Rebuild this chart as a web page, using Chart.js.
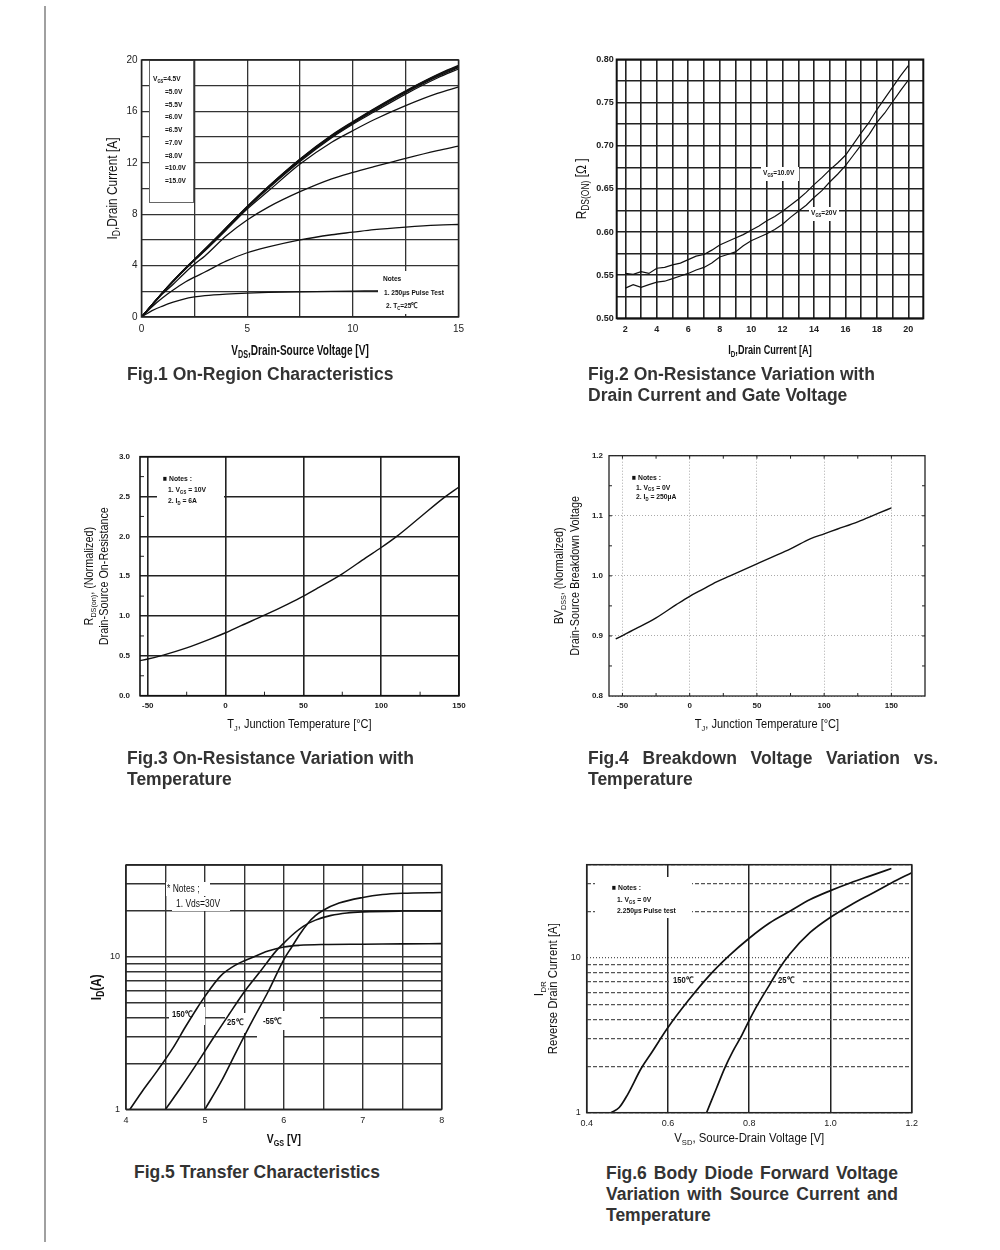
<!DOCTYPE html>
<html>
<head>
<meta charset="utf-8">
<script src="https://cdn.jsdelivr.net/npm/chart.js@4.4.1/dist/chart.umd.min.js"></script>
<style>
  body { margin: 0; background: #fff; width: 1000px; height: 1250px; position: relative; overflow: hidden;
         font-family: "Liberation Sans", Arial, sans-serif; }
  .rule { position: absolute; left: 44px; top: 6px; width: 2px; height: 1236px; background: #a0a0a0; }
  canvas { position: absolute; }
  .cap { position: absolute; font-weight: bold; font-size: 17.5px; line-height: 21px; color: #333; white-space: nowrap; }
  .cap .j { text-align: justify; text-align-last: justify; white-space: normal; }
</style>
</head>
<body>
<div class="rule"></div>
<canvas id="fig1"></canvas>
<canvas id="fig2"></canvas>
<canvas id="fig3"></canvas>
<canvas id="fig4"></canvas>
<canvas id="fig5"></canvas>
<canvas id="fig6"></canvas>

<div class="cap" style="left:127px;top:364px">Fig.1 On-Region Characteristics</div>
<div class="cap" style="left:588px;top:364px">Fig.2 On-Resistance Variation with<br>Drain Current and Gate Voltage</div>
<div class="cap" style="left:127px;top:748px">Fig.3 On-Resistance Variation with<br>Temperature</div>
<div class="cap" style="left:588px;top:748px"><div class="j" style="width:350px">Fig.4 Breakdown Voltage Variation vs.</div>Temperature</div>
<div class="cap" style="left:134px;top:1162px">Fig.5 Transfer Characteristics</div>
<div class="cap" style="left:606px;top:1163px"><div class="j" style="width:292px">Fig.6 Body Diode Forward Voltage</div><div class="j" style="width:292px">Variation with Source Current and</div>Temperature</div>

<script>
// Fig.1 On-region characteristics (ID vs VDS, one curve per VGS)
const fig1Vds = [0, 0.5, 1, 1.5, 2, 2.5, 3, 4, 5, 6, 7.5, 9, 10, 11, 12.5, 14, 15];
const fig1Id45 = [0, 0.5, 0.85, 1.15, 1.4, 1.56, 1.66, 1.78, 1.86, 1.91, 1.96, 2.0, 2.02, 2.03, 2.05, 2.07, 2.08];
const fig1Id50 = [0, 0.8, 1.5, 2.1, 2.65, 3.1, 3.5, 4.35, 5.0, 5.45, 6.0, 6.4, 6.6, 6.8, 7.0, 7.15, 7.2];
const fig1Id55 = [0, 0.9, 1.8, 2.55, 3.35, 4.1, 4.75, 6.3, 7.55, 8.55, 9.75, 10.75, 11.25, 11.7, 12.35, 12.95, 13.3];
const fig1Id60 = [0, 0.95, 1.88, 2.75, 3.6, 4.4, 5.15, 6.75, 8.4, 9.8, 11.9, 13.6, 14.5, 15.35, 16.45, 17.4, 17.9];
const fig1Id65 = [0, 0.95, 1.9, 2.78, 3.63, 4.42, 5.2, 6.85, 8.5, 10.0, 12.1, 13.95, 15.0, 15.95, 17.35, 18.6, 19.3];
const fig1Id70 = [0, 0.95, 1.9, 2.79, 3.64, 4.44, 5.23, 6.88, 8.53, 10.05, 12.18, 14.02, 15.07, 16.05, 17.45, 18.7, 19.4];
const fig1Id80 = [0, 0.95, 1.9, 2.8, 3.65, 4.45, 5.25, 6.9, 8.55, 10.1, 12.23, 14.08, 15.13, 16.12, 17.52, 18.77, 19.47];
const fig1Id100 = [0, 0.96, 1.91, 2.81, 3.66, 4.47, 5.27, 6.92, 8.58, 10.13, 12.27, 14.12, 15.17, 16.17, 17.57, 18.82, 19.53];
const fig1Id150 = [0, 0.96, 1.92, 2.82, 3.68, 4.48, 5.29, 6.94, 8.6, 10.16, 12.3, 14.16, 15.21, 16.21, 17.61, 18.87, 19.58];
const fig1Gates = ['V_{GS}=4.5V', '=5.0V', '=5.5V', '=6.0V', '=6.5V', '=7.0V', '=8.0V', '=10.0V', '=15.0V'];
const fig1XTicks = [0, 2.5, 5, 7.5, 10, 12.5, 15];
const fig1YTicks = [0, 2, 4, 6, 8, 10, 12, 14, 16, 18, 20];

// Fig.2 RDS(on) vs ID
const fig2Id = [2, 2.5, 3, 3.5, 4, 4.5, 5, 5.5, 6, 6.5, 7, 7.5, 8, 8.5, 9, 9.5, 10, 10.5, 11, 11.5, 12, 12.5, 13, 13.5, 14, 14.5, 15, 15.5, 16, 16.5, 17, 17.5, 18, 18.5, 19, 19.5, 20];
const fig2R10 = [0.552, 0.551, 0.554, 0.552, 0.558, 0.559, 0.562, 0.564, 0.568, 0.572, 0.574, 0.579, 0.585, 0.589, 0.593, 0.597, 0.602, 0.607, 0.613, 0.618, 0.624, 0.631, 0.638, 0.646, 0.655, 0.663, 0.672, 0.68, 0.689, 0.702, 0.715, 0.727, 0.742, 0.755, 0.768, 0.781, 0.793];
const fig2R20 = [0.535, 0.539, 0.536, 0.539, 0.542, 0.543, 0.546, 0.549, 0.552, 0.556, 0.559, 0.564, 0.571, 0.574, 0.577, 0.584, 0.59, 0.594, 0.598, 0.603, 0.609, 0.617, 0.624, 0.631, 0.64, 0.648, 0.658, 0.667, 0.677, 0.689, 0.701, 0.713, 0.727, 0.738, 0.751, 0.764, 0.776];
const fig2XTicks = [2, 3, 4, 5, 6, 7, 8, 9, 10, 11, 12, 13, 14, 15, 16, 17, 18, 19, 20];
const fig2YTicks = [0.5, 0.525, 0.55, 0.575, 0.6, 0.625, 0.65, 0.675, 0.7, 0.725, 0.75, 0.775, 0.8];

// Fig.3 normalized RDS(on) vs TJ
const fig3Tj = [-55, -50, -40, -25, -10, 0, 10, 25, 40, 50, 60, 75, 90, 100, 110, 125, 140, 150];
const fig3R = [0.44, 0.46, 0.51, 0.6, 0.71, 0.79, 0.88, 1.01, 1.15, 1.25, 1.36, 1.53, 1.73, 1.86, 2.0, 2.24, 2.48, 2.62];
const fig3XTicks = [-50, 0, 50, 100, 150];
const fig3YTicks = [0, 0.5, 1, 1.5, 2, 2.5, 3];

// Fig.4 normalized BVDSS vs TJ
const fig4Tj = [-55, -40, -25, -10, 0, 10, 20, 30, 40, 50, 60, 75, 90, 100, 110, 125, 140, 150];
const fig4Bv = [0.895, 0.912, 0.93, 0.952, 0.966, 0.978, 0.99, 1.0, 1.01, 1.02, 1.03, 1.045, 1.062, 1.07, 1.078, 1.09, 1.104, 1.113];
const fig4XTicks = [-50, 0, 50, 100, 150];
const fig4YTicks = [0.8, 0.9, 1.0, 1.1, 1.2];

// Fig.5 transfer characteristics (ID vs VGS)
const fig5Vgs150 = [4.05, 4.2, 4.4, 4.6, 4.75, 4.9, 5.0, 5.2, 5.4, 5.6, 5.8, 6.0, 6.2, 6.5, 7.0, 7.5, 8.0];
const fig5Id150 = [1.0, 1.3, 1.8, 2.55, 3.45, 4.6, 5.5, 7.5, 8.9, 9.9, 10.9, 11.6, 11.9, 12.05, 12.1, 12.15, 12.2];
const fig5Vgs25 = [4.5, 4.7, 4.9, 5.1, 5.3, 5.5, 5.7, 5.9, 6.0, 6.1, 6.25, 6.4, 6.6, 6.8, 7.0, 7.5, 8.0];
const fig5Id25 = [1.0, 1.4, 2.0, 2.9, 4.15, 5.9, 8.0, 10.9, 12.3, 13.8, 15.9, 17.4, 18.7, 19.4, 19.7, 19.95, 20.0];
const fig5VgsM55 = [5.0, 5.2, 5.4, 5.6, 5.8, 6.0, 6.1, 6.2, 6.3, 6.4, 6.5, 6.7, 7.0, 7.25, 7.5, 8.0];
const fig5IdM55 = [1.0, 1.5, 2.4, 3.8, 5.9, 9.6, 11.6, 14.0, 16.5, 18.6, 20.2, 22.5, 24.5, 25.6, 26.1, 26.4];
const fig5XTicks = [4, 4.5, 5, 5.5, 6, 6.5, 7, 7.5, 8];
const logTicks = [1, 2, 3, 4, 5, 6, 7, 8, 9, 10, 20, 30, 40];

// Fig.6 body diode forward voltage (IDR vs VSD)
const fig6Vsd150 = [0.46, 0.48, 0.5, 0.535, 0.56, 0.6, 0.65, 0.7, 0.75, 0.8, 0.85, 0.9, 0.95, 1.0, 1.05, 1.1, 1.15];
const fig6Idr150 = [1.0, 1.08, 1.3, 1.95, 2.45, 3.55, 5.3, 7.6, 10.3, 13.4, 16.8, 20.0, 23.8, 27.2, 30.6, 34.0, 37.8];
const fig6Vsd25 = [0.695, 0.72, 0.74, 0.76, 0.78, 0.8, 0.82, 0.85, 0.875, 0.9, 0.95, 1.0, 1.05, 1.1, 1.15, 1.2];
const fig6Idr25 = [1.0, 1.45, 1.95, 2.5, 3.1, 3.95, 4.95, 6.7, 8.6, 10.6, 14.6, 18.3, 22.0, 25.9, 30.5, 35.5];
const fig6XTicks = [0.4, 0.6, 0.8, 1.0, 1.2];

const FONT = '"Liberation Sans", Arial, sans-serif';
const xy = (xs, ys) => xs.map((x, i) => ({ x, y: ys[i] }));

// --- small rich text helper: "I_{D}" draws D as subscript
function richParts(str) {
  return str.split(/(_\{[^}]*\})/).filter(Boolean).map(p =>
    p.startsWith('_{') ? { t: p.slice(2, -1), sub: true } : { t: p, sub: false });
}
function drawRich(ctx, str, x, y, o) {
  const size = o.size || 9;
  const font = sub => `${o.weight || 'normal'} ${sub ? Math.round(size * 0.68) : size}px ${FONT}`;
  const parts = richParts(str);
  let w = 0;
  parts.forEach(p => { ctx.font = font(p.sub); p.w = ctx.measureText(p.t).width; w += p.w; });
  ctx.save();
  ctx.translate(x, y);
  if (o.rot) ctx.rotate(o.rot);
  ctx.scale(o.sx || 1, 1);
  let cx = o.align === 'center' ? -w / 2 : o.align === 'right' ? -w : 0;
  ctx.fillStyle = o.color || '#111';
  ctx.textBaseline = 'middle';
  parts.forEach(p => { ctx.font = font(p.sub); ctx.fillText(p.t, cx, p.sub ? size * 0.32 : 0); cx += p.w; });
  ctx.restore();
}

function sheet(c) {
  const box = (ctx, b) => {
    const [x1, y1, x2, y2] = b.r;
    ctx.save();
    ctx.fillStyle = '#fff';
    ctx.fillRect(x1 - c.box.left, y1 - c.box.top, x2 - x1, y2 - y1);
    if (b.stroke) { ctx.strokeStyle = b.stroke; ctx.lineWidth = 1; ctx.strokeRect(x1 - c.box.left + 0.5, y1 - c.box.top + 0.5, x2 - x1, y2 - y1); }
    ctx.restore();
  };
  return {
    id: 'sheet',
    beforeDatasetsDraw(chart) {
      (c.boxes || []).filter(b => !b.over).forEach(b => box(chart.ctx, b));
    },
    afterDatasetsDraw(chart) {
      const ctx = chart.ctx, a = chart.chartArea;
      (c.boxes || []).filter(b => b.over).forEach(b => box(ctx, b));
      if (c.minor) {
        const m = c.minor, sx = chart.scales.x, sy = chart.scales.y;
        ctx.save(); ctx.strokeStyle = '#222'; ctx.lineWidth = 1; ctx.beginPath();
        (m.x || []).forEach(v => {
          const px = sx.getPixelForValue(v);
          ctx.moveTo(px, a.bottom); ctx.lineTo(px, a.bottom - m.len);
          if (m.both) { ctx.moveTo(px, a.top); ctx.lineTo(px, a.top + m.len); }
        });
        (m.y || []).forEach(v => {
          const py = sy.getPixelForValue(v);
          ctx.moveTo(a.left, py); ctx.lineTo(a.left + m.len, py);
          if (m.both) { ctx.moveTo(a.right, py); ctx.lineTo(a.right - m.len, py); }
        });
        ctx.stroke(); ctx.restore();
      }
      ctx.save();
      ctx.strokeStyle = c.frame.color; ctx.lineWidth = c.frame.width;
      ctx.strokeRect(a.left, a.top, a.right - a.left, a.bottom - a.top);
      ctx.restore();
      (c.texts || []).forEach(t => drawRich(ctx, t.s, t.x - c.box.left, t.y - c.box.top, Object.assign({}, c.textStyle, t)));
      const cx = (a.left + a.right) / 2, cy = (a.top + a.bottom) / 2;
      const xt = c.xTitle;
      drawRich(ctx, xt.s, cx + (xt.dx || 0), a.bottom + xt.dy, Object.assign({ align: 'center' }, xt));
      c.yTitles.forEach(yt => drawRich(ctx, yt.s, a.left + yt.dx, cy + (yt.dy || 0),
        Object.assign({ align: 'center', rot: -Math.PI / 2 }, yt)));
    }
  };
}

function axis(c) {
  return {
    type: c.type || 'linear', min: c.min, max: c.max,
    afterFit: s => { if (c.fitW !== undefined) s.width = c.fitW; if (c.fitH !== undefined) s.height = c.fitH; },
    afterBuildTicks: s => { s.ticks = c.ticks.map(v => ({ value: v })); },
    ticks: {
      autoSkip: false, maxRotation: 0, padding: c.pad, color: '#222',
      font: { family: FONT, size: c.fontSize || 9, weight: c.bold ? 'bold' : 'normal' },
      callback: c.label
    },
    grid: { color: c.gridColor || '#333', lineWidth: c.gridWidth || 1.3, drawTicks: false },
    border: { display: false, dash: c.dash || [] }
  };
}

function mount(id, box, plot, c) {
  const cv = document.getElementById(id);
  cv.width = box.w; cv.height = box.h;
  cv.style.left = box.left + 'px'; cv.style.top = box.top + 'px';
  cv.style.width = box.w + 'px'; cv.style.height = box.h + 'px';
  c.x.fitH = box.top + box.h - plot.b;
  c.y.fitW = plot.l - box.left;
  c.sheet.box = box;
  return new Chart(cv, {
    type: 'line',
    data: { datasets: c.datasets.map(d => Object.assign({
      borderColor: '#111', borderWidth: 1.3, pointRadius: 0, fill: false,
      cubicInterpolationMode: 'monotone'
    }, d)) },
    options: {
      responsive: false, animation: false, devicePixelRatio: 1,
      layout: { padding: { top: plot.t - box.top, right: box.left + box.w - plot.r, left: 0, bottom: 0 } },
      plugins: { legend: { display: false }, tooltip: { enabled: false } },
      scales: { x: axis(c.x), y: axis(c.y) }
    },
    plugins: [sheet(c.sheet)]
  });
}

const small = { size: 8, weight: 'bold', sx: 0.82 };

// ---------- Fig.1
mount('fig1', { left: 80, top: 40, w: 410, h: 330 }, { l: 141.5, t: 60, r: 458.5, b: 317 }, {
  datasets: [
    { data: xy(fig1Vds, fig1Id45) }, { data: xy(fig1Vds, fig1Id50) },
    { data: xy(fig1Vds, fig1Id55) }, { data: xy(fig1Vds, fig1Id60) },
    { data: xy(fig1Vds, fig1Id65) }, { data: xy(fig1Vds, fig1Id70) },
    { data: xy(fig1Vds, fig1Id80) }, { data: xy(fig1Vds, fig1Id100) },
    { data: xy(fig1Vds, fig1Id150) }
  ],
  x: { min: 0, max: 15, ticks: fig1XTicks, pad: 6, fontSize: 10, label: v => (v % 5 === 0 ? String(v) : '') },
  y: { min: 0, max: 20, ticks: fig1YTicks, pad: 4, fontSize: 10, label: v => (v % 4 === 0 ? String(v) : '') },
  sheet: {
    frame: { color: '#222', width: 1.5 },
    boxes: [{ r: [149, 60, 193, 202], stroke: '#666' }, { r: [378, 271, 458, 314], over: true }],
    textStyle: small,
    texts: fig1Gates.map((s, i) => ({ s, x: i === 0 ? 153 : 165, y: 79 + i * 12.75 }))
      .concat([
        { s: 'Notes', x: 383, y: 279 },
        { s: '1. 250µs Pulse Test', x: 384, y: 292.5 },
        { s: '2. T_{C}=25℃', x: 386, y: 306 }
      ]),
    xTitle: { s: 'V_{DS},Drain-Source Voltage [V]', dy: 34, size: 14, weight: 'bold', sx: 0.72 },
    yTitles: [{ s: 'I_{D},Drain Current [A]', dx: -28.5, size: 14, sx: 0.85 }]
  }
});

// ---------- Fig.2
mount('fig2', { left: 560, top: 40, w: 400, h: 330 }, { l: 616.7, t: 59.5, r: 923.3, b: 318.3 }, {
  datasets: [
    { data: xy(fig2Id, fig2R10), cubicInterpolationMode: 'default', tension: 0, borderWidth: 1.2 },
    { data: xy(fig2Id, fig2R20), cubicInterpolationMode: 'default', tension: 0, borderWidth: 1.2 }
  ],
  x: { min: 1.45, max: 20.95, ticks: fig2XTicks, pad: 6, fontSize: 9, bold: true, gridColor: '#222', gridWidth: 1.6,
       label: v => (v % 2 === 0 ? String(v) : '') },
  y: { min: 0.5, max: 0.8, ticks: fig2YTicks, pad: 3, fontSize: 9, bold: true, gridColor: '#222', gridWidth: 1.6,
       label: v => (Math.round(v * 1000) % 50 === 0 ? v.toFixed(2) : '') },
  sheet: {
    frame: { color: '#111', width: 2 },
    boxes: [{ r: [761, 167, 799, 181] }, { r: [809, 207, 839, 221] }],
    textStyle: small,
    texts: [
      { s: 'V_{GS}=10.0V', x: 763, y: 173 },
      { s: 'V_{GS}=20V', x: 811, y: 213 }
    ],
    xTitle: { s: 'I_{D},Drain Current [A]', dy: 32, size: 13, weight: 'bold', sx: 0.7 },
    yTitles: [{ s: 'R_{DS(ON)} [Ω ]', dx: -35, size: 14, sx: 0.85 }]
  }
});

// ---------- Fig.3
mount('fig3', { left: 70, top: 440, w: 410, h: 310 }, { l: 140, t: 456.7, r: 459, b: 695.7 }, {
  datasets: [{ data: xy(fig3Tj, fig3R), borderWidth: 1.4 }],
  x: { min: -55, max: 150, ticks: fig3XTicks, pad: 5, fontSize: 8, bold: true, gridColor: '#222', gridWidth: 1.6,
       label: v => String(v) },
  y: { min: 0, max: 3, ticks: fig3YTicks, pad: 10, fontSize: 8, bold: true, gridColor: '#222', gridWidth: 1.6,
       label: v => v.toFixed(1) },
  sheet: {
    frame: { color: '#111', width: 1.6 },
    minor: { x: [-25, 25, 75, 125], y: [0.25, 0.75, 1.25, 1.75, 2.25, 2.75], len: 4 },
    boxes: [{ r: [157, 473, 224, 507] }],
    textStyle: { size: 8, weight: 'bold', sx: 0.85 },
    texts: [
      { s: '■ Notes :', x: 163, y: 479 },
      { s: '1. V_{GS} = 10V', x: 168, y: 490 },
      { s: '2. I_{D} = 6A', x: 168, y: 501 }
    ],
    xTitle: { s: 'T_{J}, Junction Temperature [°C]', dy: 29, size: 12, sx: 0.92 },
    yTitles: [
      { s: 'R_{DS(on)}, (Normalized)', dx: -50, size: 12, sx: 0.9 },
      { s: 'Drain-Source On-Resistance', dx: -35, size: 12, sx: 0.9 }
    ]
  }
});

// ---------- Fig.4
mount('fig4', { left: 540, top: 440, w: 410, h: 310 }, { l: 609, t: 455.7, r: 925, b: 696 }, {
  datasets: [{ data: xy(fig4Tj, fig4Bv), borderWidth: 1.4 }],
  x: { min: -60, max: 175, ticks: fig4XTicks, pad: 5, fontSize: 8, bold: true, gridColor: '#aaa', gridWidth: 1, dash: [1, 2],
       label: v => String(v) },
  y: { min: 0.8, max: 1.2, ticks: fig4YTicks, pad: 6, fontSize: 8, bold: true, gridColor: '#aaa', gridWidth: 1, dash: [1, 2],
       label: v => v.toFixed(1) },
  sheet: {
    frame: { color: '#222', width: 1.3 },
    minor: { x: [-50, -25, 0, 25, 50, 75, 100, 125, 150], y: [0.85, 0.9, 0.95, 1.0, 1.05, 1.1, 1.15], len: 3, both: true },
    textStyle: { size: 8, weight: 'bold', sx: 0.85 },
    texts: [
      { s: '■ Notes :', x: 632, y: 478 },
      { s: '1. V_{GS} = 0V', x: 636, y: 487.5 },
      { s: '2. I_{D} = 250µA', x: 636, y: 497 }
    ],
    xTitle: { s: 'T_{J}, Junction Temperature [°C]', dy: 29, size: 12, sx: 0.92 },
    yTitles: [
      { s: 'BV_{DSS}, (Normalized)', dx: -49, size: 12, sx: 0.9 },
      { s: 'Drain-Source Breakdown Voltage', dx: -33, size: 12, sx: 0.9 }
    ]
  }
});

// ---------- Fig.5
mount('fig5', { left: 70, top: 850, w: 400, h: 310 }, { l: 126, t: 865, r: 441.7, b: 1109.3 }, {
  datasets: [
    { data: xy(fig5Vgs150, fig5Id150), borderWidth: 1.6 },
    { data: xy(fig5Vgs25, fig5Id25), borderWidth: 1.6 },
    { data: xy(fig5VgsM55, fig5IdM55), borderWidth: 1.6 }
  ],
  x: { min: 4, max: 8, ticks: fig5XTicks, pad: 6, fontSize: 9, gridColor: '#333', gridWidth: 1.4,
       label: v => (Number.isInteger(v) ? String(v) : '') },
  y: { type: 'logarithmic', min: 1, max: 40, ticks: logTicks, pad: 6, fontSize: 9, gridColor: '#333', gridWidth: 1.4,
       label: v => (v === 1 || v === 10 ? String(v) : '') },
  sheet: {
    frame: { color: '#222', width: 1.5 },
    boxes: [
      { r: [166, 882, 210, 896] }, { r: [172, 897, 230, 911] },
      { r: [169, 1007, 205, 1025] }, { r: [225, 1013, 257, 1033] },
      { r: [257, 1011, 320, 1030] }, { r: [257, 1030, 283, 1041] }
    ],
    textStyle: { size: 10, sx: 0.85 },
    texts: [
      { s: '* Notes ;', x: 167, y: 889 },
      { s: '1. Vds=30V', x: 176, y: 904 },
      { s: '150℃', x: 172, y: 1015, size: 9, weight: 'bold' },
      { s: '25℃', x: 227, y: 1023, size: 9, weight: 'bold' },
      { s: '-55℃', x: 263, y: 1022, size: 9, weight: 'bold' }
    ],
    xTitle: { s: 'V_{GS} [V]', dy: 30, size: 13, weight: 'bold', sx: 0.8 },
    yTitles: [{ s: 'I_{D}(A)', dx: -29, size: 14, weight: 'bold', sx: 0.85 }]
  }
});

// ---------- Fig.6
mount('fig6', { left: 520, top: 850, w: 420, h: 310 }, { l: 586.7, t: 864.7, r: 911.7, b: 1112.7 }, {
  datasets: [
    { data: xy(fig6Vsd150, fig6Idr150), borderWidth: 1.7 },
    { data: xy(fig6Vsd25, fig6Idr25), borderWidth: 1.7 }
  ],
  x: { min: 0.4, max: 1.2, ticks: fig6XTicks, pad: 5, fontSize: 9, gridColor: '#222', gridWidth: 1.5,
       label: v => v.toFixed(1) },
  y: { type: 'logarithmic', min: 1, max: 40, ticks: logTicks, pad: 6, fontSize: 9, gridColor: '#555', gridWidth: 1.2,
       dash: ctx => (ctx.tick && ctx.tick.value === 10 ? [1, 2] : [4, 2]),
       label: v => (v === 1 || v === 10 ? String(v) : '') },
  sheet: {
    frame: { color: '#222', width: 1.5 },
    boxes: [{ r: [595, 877, 692, 918] }, { r: [671, 974, 699, 988] }, { r: [776, 974, 803, 988] }],
    textStyle: { size: 8, weight: 'bold', sx: 0.85 },
    texts: [
      { s: '■ Notes :', x: 612, y: 888 },
      { s: '1. V_{GS} = 0V', x: 617, y: 900 },
      { s: '2.250µs Pulse test', x: 617, y: 911 },
      { s: '150℃', x: 673, y: 981, size: 9 },
      { s: '25℃', x: 778, y: 981, size: 9 }
    ],
    xTitle: { s: 'V_{SD}, Source-Drain Voltage [V]', dy: 26, size: 12, sx: 0.95 },
    yTitles: [
      { s: 'I_{DR}', dx: -47, size: 12 },
      { s: 'Reverse Drain Current [A]', dx: -33, size: 12, sx: 0.95 }
    ]
  }
});
</script>
</body>
</html>
